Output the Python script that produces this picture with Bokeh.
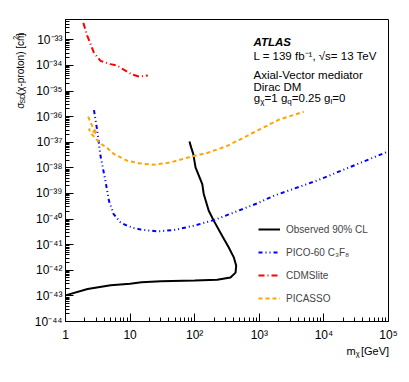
import math
from bokeh.plotting import figure
from bokeh.layouts import row, column
from bokeh.models import FixedTicker, Label, Legend, LegendItem
from bokeh.core.properties import value
from bokeh.embed import file_html
from bokeh.resources import INLINE

# ---------------- data ----------------
obs_mass = [1.0, 2.2, 5.0, 10, 15, 30, 100, 223, 358, 429, 439, 403, 337, 267, 198, 165, 138, 131, 103, 95, 88, 83]
obs_xsec = [1.05e-43, 1.85e-43, 2.6e-43, 3.0e-43, 3.4e-43, 3.7e-43, 3.95e-43, 4.3e-43, 5.2e-43, 8.1e-43,
            1.5e-42, 3.2e-42, 7.8e-42, 2.2e-41, 8.5e-41, 2.1e-40, 9.5e-40, 2.3e-39, 1.05e-38, 3.5e-38,
            6.3e-38, 1.07e-37]

pico_mass = [2.76, 3.10, 3.48, 4.16, 4.71, 5.53, 7.10, 9.0, 11.4, 14.5, 26.2, 47.4, 96.8, 198, 403, 927,
             1675, 7870, 1e5]
pico_xsec = [1.8e-36, 2.8e-37, 2.95e-38, 3.0e-39, 5.1e-40, 1.6e-40, 7.4e-41, 5.5e-41, 4.5e-41, 3.9e-41,
             3.3e-41, 3.7e-41, 5.5e-41, 9.1e-41, 1.8e-40, 4.1e-40, 8.1e-40, 3.2e-39, 4.4e-38]

cdms_mass = [1.65, 2.17, 2.74, 3.48, 4.98, 6.31, 7.98, 10.8, 13.6, 18.8]
cdms_xsec = [1.4e-32, 1.45e-33, 3.2e-34, 1.5e-34, 1.12e-34, 9.8e-35, 6.8e-35, 4.4e-35, 3.7e-35, 4.0e-35]

picasso_mass = [2.25, 2.44, 2.74, 3.10, 2.30, 2.53, 2.99, 3.48, 4.42, 5.60, 9.0, 14.5, 23.3, 42.2, 86.1,
                156, 318, 650, 1045, 2005, 4890]
picasso_xsec = [1.0e-36, 5.9e-37, 3.3e-37, 2.1e-37, 3.3e-37, 2.1e-37, 1.33e-37, 8.9e-38, 6.0e-38, 3.5e-38,
                1.9e-38, 1.48e-38, 1.32e-38, 1.62e-38, 2.7e-38, 3.8e-38, 7.2e-38, 1.78e-37, 3.3e-37,
                7.6e-37, 1.55e-36]

x_tick_values = [1, 10, 100, 1000, 10000, 100000]
x_tick_labels = ["1", "10", "10\u00b2", "10\u00b3", "10\u2074", "10\u2075"]
y_tick_exponents = list(range(-44, -32))
sup = str.maketrans("-0123456789", "\u207b\u2070\u00b9\u00b2\u00b3\u2074\u2075\u2076\u2077\u2078\u2079")
y_tick_values = [10.0 ** e for e in y_tick_exponents]
y_tick_labels = ["10" + str(e).translate(sup) for e in y_tick_exponents]

legend_labels = ["Observed 90% CL", "PICO-60 C\u2083F\u2088", "CDMSlite", "PICASSO"]

FONT = "Liberation Sans"

# ---------------- main figure ----------------
p = figure(width=378, height=345, x_axis_type="log", y_axis_type="log",
           x_range=(1, 1e5), y_range=(1e-44, 6.2e-33),
           output_backend="svg", toolbar_location=None,
           min_border_left=35, min_border_right=20, min_border_top=19, min_border_bottom=24)

p.grid.visible = False
p.outline_line_color = "black"
p.outline_line_alpha = 1.0
p.outline_line_width = 1
p.background_fill_color = "white"
p.border_fill_color = "white"

x_minor = [k * 10.0 ** e for e in range(0, 5) for k in range(2, 10)]
y_minor = [k * 10.0 ** e for e in range(-44, -32) for k in range(2, 10) if k * 10.0 ** e < 6.2e-33]
p.xaxis.ticker = FixedTicker(ticks=x_tick_values, minor_ticks=x_minor)
p.yaxis.ticker = FixedTicker(ticks=y_tick_values, minor_ticks=y_minor)
p.xaxis.major_label_overrides = dict(zip(x_tick_values, x_tick_labels))
p.yaxis.major_label_overrides = dict(zip(y_tick_values, y_tick_labels))

for ax in (p.xaxis, p.yaxis):
    ax.major_tick_in = 8
    ax.major_tick_out = 0
    ax.minor_tick_in = 4
    ax.minor_tick_out = 0
    ax.axis_line_color = "black"
    ax.major_tick_line_color = "black"
    ax.minor_tick_line_color = "black"
    ax.major_label_text_font = FONT
    ax.major_label_text_font_size = "12px"
    ax.major_label_text_color = "black"
p.xaxis.major_label_standoff = 6
p.yaxis.major_label_standoff = 3

r_obs = p.line(obs_mass, obs_xsec, line_color="black", line_width=2)
r_pico = p.line(pico_mass, pico_xsec, line_color="blue", line_width=2, line_dash="4 3 1 3 1 3")
r_cdms = p.line(cdms_mass, cdms_xsec, line_color="red", line_width=2, line_dash="6 3 1 3")
r_picasso = p.line(picasso_mass, picasso_xsec, line_color="#ffa500", line_width=2, line_dash="4 3")

legend = Legend(items=[LegendItem(label=legend_labels[0], renderers=[r_obs]),
                       LegendItem(label=legend_labels[1], renderers=[r_pico]),
                       LegendItem(label=legend_labels[2], renderers=[r_cdms]),
                       LegendItem(label=legend_labels[3], renderers=[r_picasso])],
                location=(193, 13), padding=0, margin=0, spacing=3,
                glyph_width=22, glyph_height=20, label_height=20, label_standoff=6,
                label_text_font=FONT, label_text_font_size="10px",
                border_line_color=None, background_fill_alpha=0)
p.add_layout(legend)


def lab(text, x, y, size, style="normal"):
    p.add_layout(Label(x=x, y=y, x_units="screen", y_units="screen", text=text,
                       text_font=FONT, text_font_size=size, text_font_style=style,
                       text_baseline="alphabetic", text_align="left", text_color="black"))


# top-right annotation block (positions in px from the frame's bottom-left)
lab("ATLAS", 188, 279.3, "11.5px", "bold italic")
lab("L = 139 fb\u207b\u00b9, \u221as= 13 TeV", 188, 266, "11.5px")
lab("Axial-Vector mediator", 188, 247, "11.5px")
lab("Dirac DM", 188, 235, "11.5px")
lab("g", 188.3, 223.3, "11.5px")
lab("\u03c7", 194.7, 220.3, "8px")
lab("=1 g", 199.1, 223.3, "11.5px")
lab("q", 221.8, 220.3, "8px")
lab("=0.25 g", 226.3, 223.3, "11.5px")
lab("l", 265.0, 220.3, "8px")
lab("=0", 266.8, 223.3, "11.5px")


def text_fig(w, h):
    f = figure(width=w, height=h, x_range=(0, w), y_range=(0, h),
               x_axis_type=None, y_axis_type=None, output_backend="svg", toolbar_location=None,
               min_border=0, outline_line_color=None)
    f.grid.visible = False
    f.background_fill_color = "white"
    f.border_fill_color = "white"
    return f


# ---------------- y axis title (rotated, with sub/superscripts) ----------------
yfig = text_fig(30, 345)
A = math.pi / 2
yfig.text(x=[19.5, 19.5, 19.5], y=[243, 258.6, 326], text=["\u03c3", "(\u03c7-proton) [cm", "]"],
          angle=A, text_font=value(FONT), text_font_size="10px", text_color="black",
          text_align="left", text_baseline="alphabetic")
yfig.text(x=[22, 14.5], y=[248.9, 321.8], text=["SD", "2"],
          angle=A, text_font=value(FONT), text_font_size="7px", text_color="black",
          text_align="left", text_baseline="alphabetic")

# ---------------- x axis title ----------------
xfig = text_fig(408, 36)
xfig.text(x=[346, 360.5], y=[30.5, 30.5], text=["m", "[GeV]"],
          text_font=value(FONT), text_font_size="11px", text_color="black",
          text_align="left", text_baseline="alphabetic")
xfig.text(x=[355.2], y=[28], text=["\u03c7"],
          text_font=value(FONT), text_font_size="7.5px", text_color="black",
          text_align="left", text_baseline="alphabetic")

layout = column(row(yfig, p), xfig)
open("out.html", "w").write(file_html(layout, INLINE))
